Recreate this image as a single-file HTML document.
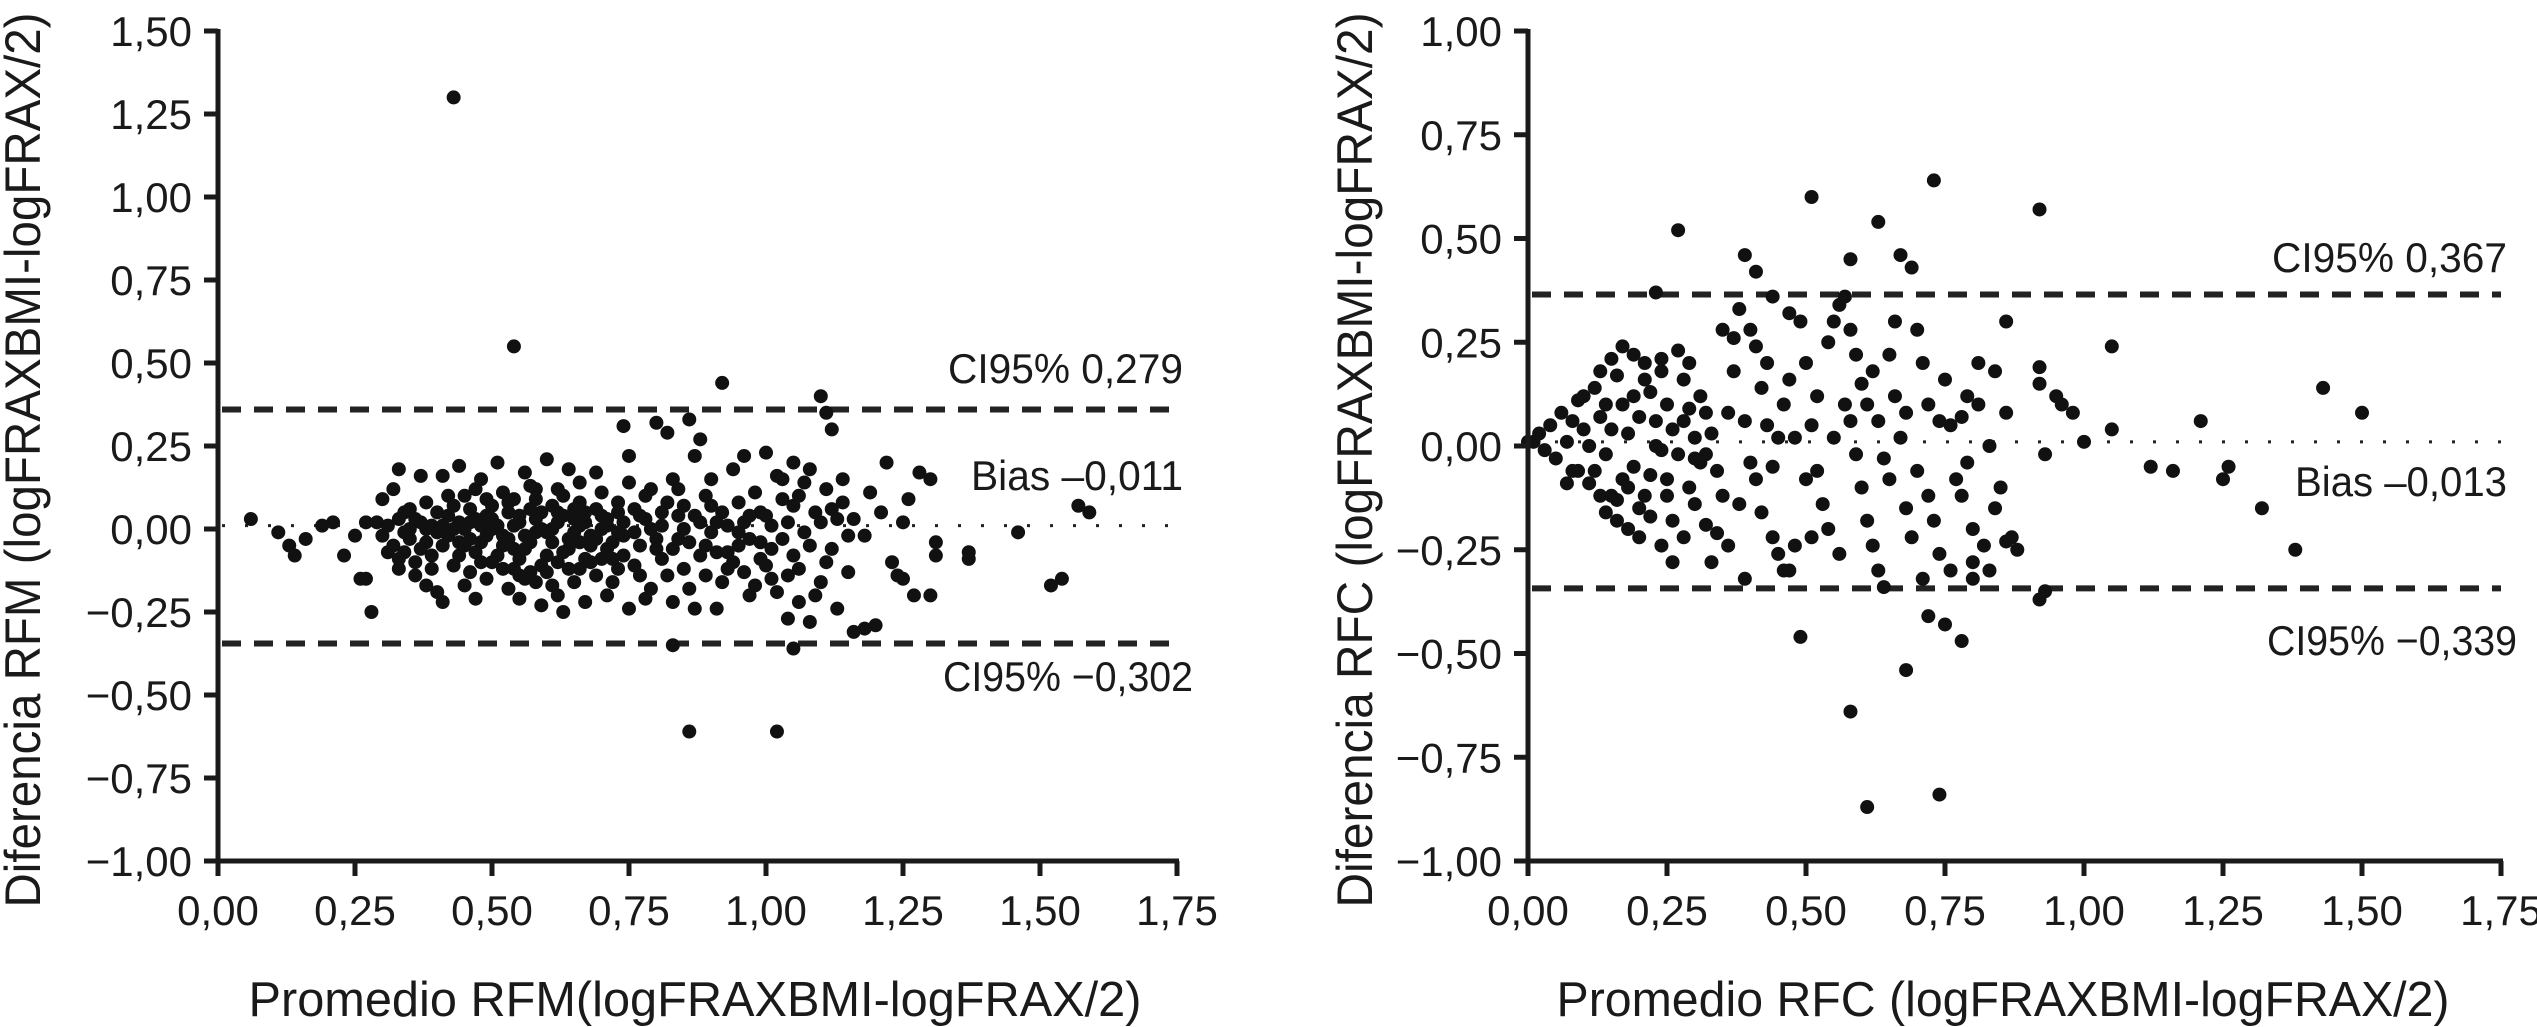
<!DOCTYPE html>
<html><head><meta charset="utf-8">
<style>
html,body{margin:0;padding:0;background:#fff;}
svg{display:block;}
text{font-family:"Liberation Sans",Arial,sans-serif;fill:#1a1a1a;}
</style></head>
<body>
<svg id="chart" width="2537" height="1027" viewBox="0 0 2537 1027" xmlns="http://www.w3.org/2000/svg">
<g id="left"></g>
<g id="right"></g>
</svg>
<script>
const xTicks = [0,0.25,0.5,0.75,1.0,1.25,1.5,1.75];
const xTickLabels = ["0,00","0,25","0,50","0,75","1,00","1,25","1,50","1,75"];
const rfmYTicks = [1.5,1.25,1.0,0.75,0.5,0.25,0,-0.25,-0.5,-0.75,-1.0];
const rfmYTickLabels = ["1,50","1,25","1,00","0,75","0,50","0,25","0,00","\u22120,25","\u22120,50","\u22120,75","\u22121,00"];
const rfcYTicks = [1.0,0.75,0.5,0.25,0,-0.25,-0.5,-0.75,-1.0];
const rfcYTickLabels = ["1,00","0,75","0,50","0,25","0,00","\u22120,25","\u22120,50","\u22120,75","\u22121,00"];
const rfmLines = [0.36,0.01,-0.345];
const rfcLines = [0.365,0.01,-0.343];
const rfmPoints = [
[0.43,1.30],[0.54,0.55],[0.92,0.44],[1.10,0.40],[1.11,0.35],[1.12,0.30],[0.80,0.32],[0.82,0.29],[0.74,0.31],[0.86,0.33],[0.88,0.27],
[0.86,-0.61],[1.02,-0.61],[1.05,-0.36],[0.83,-0.35],[1.52,-0.17],[1.54,-0.15],[1.57,0.07],[1.59,0.05],[1.46,-0.01],[1.37,-0.07],[1.37,-0.09],
[0.06,0.03],[0.11,-0.01],[0.13,-0.05],[0.14,-0.08],[0.16,-0.03],[0.19,0.01],[0.21,0.02],[0.23,-0.08],[0.26,-0.15],[0.27,-0.15],[0.28,-0.25],
[0.33,0.18],[0.37,0.16],[0.41,0.16],[0.25,-0.02],[0.27,0.02],[1.25,-0.15],[1.27,-0.20],[1.30,-0.20],[1.30,0.15],[1.28,0.17],[1.22,0.20],
[1.18,-0.30],[1.20,-0.29],[1.16,-0.31],[1.31,-0.08],[1.31,-0.04],[1.26,0.09],[1.23,-0.10],[1.24,-0.14],[1.25,0.02],[1.21,0.05],[1.19,0.11],
[0.29,0.02],[0.30,-0.02],[0.31,0.01],[0.32,-0.05],[0.33,0.03],[0.34,-0.07],[0.35,0.00],[0.36,-0.10],[0.37,0.02],[0.38,-0.04],[0.39,-0.12],
[0.40,0.05],[0.31,-0.07],[0.33,-0.09],[0.35,0.06],[0.37,-0.06],[0.39,0.01],[0.30,0.09],[0.32,0.12],[0.36,-0.14],[0.38,-0.17],[0.40,-0.19],
[0.41,-0.22],[0.42,-0.02],[0.43,0.07],[0.44,-0.08],[0.45,0.00],[0.46,-0.13],[0.47,0.12],[0.48,-0.04],[0.49,0.04],[0.50,-0.10],[0.51,0.20],
[0.52,-0.02],[0.53,0.08],[0.54,-0.06],[0.55,0.02],[0.56,-0.15],[0.57,0.13],[0.58,-0.01],[0.59,0.05],[0.60,-0.08],[0.61,0.00],[0.62,-0.20],
[0.63,0.10],[0.64,-0.03],[0.65,0.06],[0.66,-0.12],[0.67,0.02],[0.68,-0.05],[0.69,0.17],[0.70,-0.09],[0.71,0.03],[0.72,-0.16],[0.73,0.08],
[0.74,-0.02],[0.75,0.22],[0.76,-0.11],[0.77,0.04],[0.78,-0.21],[0.79,0.12],[0.80,-0.06],[0.81,0.01],[0.82,-0.14],[0.83,0.15],[0.84,-0.03],
[0.85,0.07],[0.86,-0.18],[0.87,0.22],[0.88,-0.08],[0.89,0.10],[0.90,-0.01],[0.91,-0.24],[0.92,0.05],[0.93,-0.12],[0.94,0.18],[0.95,-0.05],
[0.96,0.02],[0.97,-0.20],[0.98,0.11],[0.99,-0.09],[1.00,0.04],[1.01,-0.15],[1.02,0.16],[1.03,-0.03],[1.04,-0.27],[1.05,0.07],[1.06,-0.12],
[1.07,0.14],[1.08,-0.05],[1.09,-0.20],[1.10,0.02],[1.11,-0.10],[1.12,0.06],[1.13,-0.24],[1.14,0.15],[1.15,-0.02],[1.13,0.03],
[0.42,0.04],[0.44,0.02],[0.46,-0.03],[0.48,0.01],[0.50,0.03],[0.52,-0.05],[0.54,0.01],[0.56,-0.02],[0.58,0.03],[0.60,-0.01],[0.62,0.02],
[0.64,-0.06],[0.66,0.01],[0.68,-0.02],[0.70,0.04],[0.72,-0.04],[0.74,0.02],[0.76,-0.01],[0.78,0.03],[0.80,-0.03],[0.47,-0.07],[0.51,-0.08],
[0.55,-0.09],[0.59,-0.11],[0.63,-0.07],[0.67,-0.09],[0.71,-0.06],[0.53,0.05],[0.57,0.06],[0.61,0.07],[0.65,0.03],[0.69,0.06],[0.49,0.09],
[0.45,0.10],[0.52,0.11],[0.58,0.09],[0.62,0.12],[0.66,0.14],[0.70,0.11],[0.56,0.17],[0.60,0.21],[0.48,0.15],[0.44,0.19],[0.64,0.18],
[0.49,-0.15],[0.53,-0.18],[0.57,-0.13],[0.61,-0.17],[0.65,-0.16],[0.69,-0.14],[0.73,-0.12],[0.45,-0.17],[0.43,-0.11],[0.47,-0.21],
[0.55,-0.21],[0.59,-0.23],[0.63,-0.25],[0.67,-0.22],[0.71,-0.20],[0.75,-0.24],[0.79,-0.18],[0.83,-0.22],[0.87,-0.24],[0.89,-0.14],
[0.91,-0.07],[0.93,0.01],[0.95,0.08],[0.97,-0.03],[0.99,0.05],[1.01,-0.06],[1.03,0.09],[1.05,-0.08],[1.07,-0.01],[1.09,0.05],
[0.92,-0.16],[0.94,-0.10],[0.96,-0.13],[0.98,-0.17],[1.00,-0.11],[1.02,-0.19],[1.04,-0.14],[1.06,-0.22],[1.08,-0.28],[1.10,-0.16],
[0.84,0.04],[0.86,-0.04],[0.88,0.02],[0.90,0.07],[0.82,0.08],[0.78,0.10],[0.76,0.06],[0.84,0.12],[0.90,0.15],[0.96,0.22],[1.00,0.23],
[0.35,-0.03],[0.34,0.05],[0.39,-0.08],[0.41,-0.05],[0.42,0.10],[0.38,0.08],[0.40,-0.01],[0.44,-0.04],[0.46,0.06],[0.50,0.00],
[0.54,-0.12],[0.58,-0.16],[0.62,-0.10],[0.66,-0.04],[0.70,0.00],[0.74,-0.08],[0.77,-0.14],[0.81,-0.09],[0.85,-0.12],[0.75,0.14],
[1.14,0.08],[1.16,0.03],[1.18,-0.02],[1.12,-0.06],[1.15,-0.13],[1.11,0.12],[1.08,0.18],[1.05,0.20],[1.03,0.15],[1.06,0.10],
[0.43,0.00],[0.45,-0.05],[0.47,0.03],[0.49,-0.02],[0.51,0.01],[0.53,-0.03],[0.55,0.04],[0.57,-0.04],[0.59,0.00],[0.61,-0.04],
[0.63,0.04],[0.65,-0.01],[0.67,0.05],[0.69,-0.03],[0.71,0.01],[0.73,-0.01],[0.48,-0.10],[0.52,-0.12],[0.56,-0.06],[0.60,-0.13],
[0.64,-0.12],[0.68,-0.10],[0.72,-0.09],[0.50,0.07],[0.54,0.09],[0.58,0.12],[0.62,0.05],[0.66,0.08],[0.46,0.02],[0.41,0.01],
[0.36,0.03],[0.34,-0.01],[0.38,0.00],[0.33,-0.12],[0.79,0.00],[0.83,-0.06],[0.87,0.04],[0.91,0.02],[0.95,-0.01],[0.99,-0.04],
[1.01,0.01],[1.04,0.02],[0.97,0.04],[0.93,-0.07],[0.89,-0.05],[0.85,0.00],[0.81,0.05],[0.77,-0.05],[0.73,0.05],[0.55,-0.14]
];
const rfcPoints = [
[0.00,0.01],[0.01,0.01],[0.27,0.52],[0.51,0.60],[0.63,0.54],[0.73,0.64],[0.92,0.57],[0.67,0.46],[0.69,0.43],[0.39,0.46],[0.41,0.42],
[0.58,0.45],[0.49,-0.46],[0.58,-0.64],[0.61,-0.87],[0.74,-0.84],[0.68,-0.54],[0.78,-0.47],[0.72,-0.41],[0.75,-0.43],[0.92,-0.37],[0.93,-0.35],
[1.05,0.24],[1.05,0.04],[1.00,0.01],[0.98,0.08],[1.12,-0.05],[1.16,-0.06],[1.21,0.06],[1.25,-0.08],[1.26,-0.05],[1.32,-0.15],[1.38,-0.25],
[1.43,0.14],[1.50,0.08],[0.95,0.12],[0.96,0.10],[0.92,0.19],[0.92,0.15],[0.93,-0.02],[0.86,0.30],[0.87,-0.22],[0.86,-0.23],[0.84,-0.15],
[0.83,-0.30],[0.80,-0.28],[0.81,0.10],[0.79,-0.04],[0.78,0.07],[0.23,0.37],[0.44,0.36],
[0.02,0.03],[0.03,-0.01],[0.04,0.05],[0.05,-0.03],[0.06,0.08],[0.07,0.01],[0.08,-0.06],[0.09,0.11],[0.10,0.04],[0.11,-0.09],
[0.12,0.14],[0.13,0.07],[0.14,-0.02],[0.15,-0.12],[0.16,0.17],[0.17,0.10],[0.18,0.03],[0.19,-0.05],[0.20,-0.15],[0.21,0.20],
[0.22,0.13],[0.23,0.06],[0.24,-0.01],[0.25,-0.08],[0.26,-0.18],[0.27,0.23],[0.28,0.16],[0.29,0.09],[0.30,0.02],[0.31,-0.04],
[0.07,-0.09],[0.09,-0.06],[0.11,0.00],[0.13,-0.12],[0.15,0.04],[0.17,-0.08],[0.19,0.12],[0.21,-0.12],[0.23,0.00],[0.25,0.10],
[0.08,0.06],[0.10,0.12],[0.12,-0.06],[0.14,0.10],[0.16,-0.18],[0.18,-0.10],[0.20,0.07],[0.22,-0.07],[0.24,0.18],[0.26,0.04],
[0.13,0.18],[0.15,0.21],[0.17,0.24],[0.19,0.22],[0.21,0.16],[0.24,0.21],[0.14,-0.16],[0.16,-0.13],[0.18,-0.20],[0.20,-0.22],
[0.22,-0.17],[0.24,-0.24],[0.26,-0.28],[0.28,-0.22],[0.25,-0.12],[0.27,-0.02],[0.28,0.06],[0.29,-0.10],[0.30,-0.14],[0.31,0.12],
[0.32,-0.02],[0.33,0.03],[0.34,-0.06],[0.32,0.08],[0.30,-0.03],[0.29,0.20],[0.32,-0.19],[0.34,-0.21],[0.33,-0.28],[0.36,-0.24],
[0.37,0.18],[0.38,0.33],[0.36,0.08],[0.39,0.06],[0.40,-0.04],[0.41,-0.08],[0.42,-0.16],[0.44,-0.22],[0.45,-0.26],[0.46,-0.30],
[0.40,0.28],[0.41,0.24],[0.42,0.14],[0.43,0.05],[0.45,0.02],[0.46,0.10],[0.47,0.16],[0.44,-0.05],[0.47,-0.30],[0.48,-0.24],
[0.50,0.20],[0.51,0.05],[0.52,-0.06],[0.53,-0.14],[0.54,-0.20],[0.52,0.12],[0.54,0.25],[0.55,0.30],[0.56,0.34],[0.57,0.36],
[0.58,0.28],[0.59,0.22],[0.60,0.15],[0.58,0.06],[0.59,-0.02],[0.60,-0.10],[0.61,-0.18],[0.62,-0.24],[0.63,-0.30],[0.64,-0.34],
[0.61,0.10],[0.62,0.18],[0.63,0.06],[0.64,-0.03],[0.65,-0.08],[0.66,0.12],[0.67,0.02],[0.65,0.22],[0.68,-0.15],[0.69,-0.22],
[0.70,0.28],[0.71,0.20],[0.72,0.10],[0.72,-0.12],[0.73,-0.18],[0.74,-0.26],[0.75,0.16],[0.76,0.05],[0.77,-0.08],[0.76,-0.30],
[0.78,-0.12],[0.80,-0.20],[0.82,-0.24],[0.79,0.12],[0.81,0.20],[0.83,0.00],[0.85,-0.10],[0.88,-0.25],[0.84,0.18],[0.86,0.08],
[0.35,0.28],[0.37,0.26],[0.35,-0.12],[0.38,-0.14],[0.39,-0.32],[0.49,0.30],[0.50,-0.08],[0.51,-0.22],[0.56,-0.26],[0.57,0.10],
[0.66,0.30],[0.71,-0.32],[0.74,0.06],[0.80,-0.32],[0.70,-0.06],[0.68,0.08],[0.55,0.02],[0.48,0.02],[0.43,0.20],[0.47,0.32]
];

const NS = "http://www.w3.org/2000/svg";
function mk(parent, tag, attrs, txt){
  const e = document.createElementNS(NS, tag);
  for (const k in attrs) e.setAttribute(k, attrs[k]);
  if (txt !== undefined) e.textContent = txt;
  parent.appendChild(e);
  return e;
}

function drawPanel(g, cfg){
  const sx = v => cfg.x0 + (v - 0) / 1.75 * (cfg.x1 - cfg.x0);
  const sy = v => cfg.yBot - (v - cfg.yMin) / (cfg.yMax - cfg.yMin) * (cfg.yBot - cfg.yTop);
  cfg.lines.forEach((v, i) => {
    const ln = mk(g, "line", {x1: cfg.x0 + 4, x2: cfg.x1, y1: sy(v), y2: sy(v), stroke: "#222",
      "stroke-width": i === 1 ? 3 : 6,
      "stroke-dasharray": i === 1 ? "3 20" : "19 13"});
    
    
  });
  cfg.points.forEach(p => {
    const c = mk(g, "circle", {cx: sx(p[0]), cy: sy(p[1]), r: 7, fill: "#111"});
    
    
  });
  const ya = mk(g, "line", {x1: cfg.x0, x2: cfg.x0, y1: cfg.yTop - 2, y2: cfg.yBot + 15, stroke: "#1a1a1a", "stroke-width": 5});
  
  
  const xa = mk(g, "line", {x1: cfg.x0 - 14, x2: cfg.x1 + 2, y1: cfg.yBot, y2: cfg.yBot, stroke: "#1a1a1a", "stroke-width": 5});
  
  
  cfg.yTicks.forEach((v, i) => {
    const t = mk(g, "line", {x1: cfg.x0 - 14, x2: cfg.x0, y1: sy(v), y2: sy(v), stroke: "#1a1a1a", "stroke-width": 5});
    
    
    const l = mk(g, "text", {x: cfg.x0 - 26, y: sy(v) + 15, "text-anchor": "end", "font-size": 42}, cfg.yLabels[i]);
    
    
  });
  xTicks.forEach((v, i) => {
    const t = mk(g, "line", {x1: sx(v), x2: sx(v), y1: cfg.yBot, y2: cfg.yBot + 15, stroke: "#1a1a1a", "stroke-width": 5});
    
    
    const l = mk(g, "text", {x: sx(v), y: cfg.yBot + 64, "text-anchor": "middle", "font-size": 42}, xTickLabels[i]);
    
    
  });
  const aw = [235, 212, 250];
  const ax = [cfg.x1 + 6, cfg.x1 + 6, cfg.x1 + 16];
  const an = ['upper-ci-label', 'bias-label', 'lower-ci-label'];
  for (let i = 0; i < 3; i++) {
    const a = mk(g, "text", {x: ax[i], y: cfg.ann[i], "text-anchor": "end", "font-size": 42,
      textLength: aw[i], lengthAdjust: "spacingAndGlyphs"}, cfg.annText[i]);
    
    
  }
  const xt = mk(g, "text", {x: cfg.xTitleX, y: 1016, "text-anchor": "middle", "font-size": 49,
    textLength: 893, lengthAdjust: "spacingAndGlyphs"}, cfg.xTitle);
  
  
  const yt = mk(g, "text", {x: 0, y: 0, "text-anchor": "middle", "font-size": 50,
    textLength: 895, lengthAdjust: "spacingAndGlyphs",
    transform: "translate(" + cfg.yTitleX + "," + cfg.yTitleY + ") rotate(-90)"}, cfg.yTitle);
  
  
}

drawPanel(document.getElementById("left"), {
  x0: 218, x1: 1177, yTop: 31, yBot: 861, yMin: -1.0, yMax: 1.5,
  yTicks: rfmYTicks, yLabels: rfmYTickLabels, lines: rfmLines, points: rfmPoints,
  ann: [383, 490, 691], annText: ["CI95% 0,279", "Bias \u20130,011", "CI95% \u22120,302"],
  xTitle: "Promedio RFM(logFRAXBMI-logFRAX/2)", xTitleX: 695,
  yTitle: "Diferencia RFM (logFRAXBMI-logFRAX/2)", yTitleX: 40, yTitleY: 460
});
drawPanel(document.getElementById("right"), {
  x0: 1528, x1: 2501, yTop: 31, yBot: 861, yMin: -1.0, yMax: 1.0,
  yTicks: rfcYTicks, yLabels: rfcYTickLabels, lines: rfcLines, points: rfcPoints,
  ann: [272, 496, 655], annText: ["CI95% 0,367", "Bias \u20130,013", "CI95% \u22120,339"],
  xTitle: "Promedio RFC (logFRAXBMI-logFRAX/2)", xTitleX: 2003,
  yTitle: "Diferencia RFC (logFRAXBMI-logFRAX/2)", yTitleX: 1372, yTitleY: 460
});
</script>
</body></html>
